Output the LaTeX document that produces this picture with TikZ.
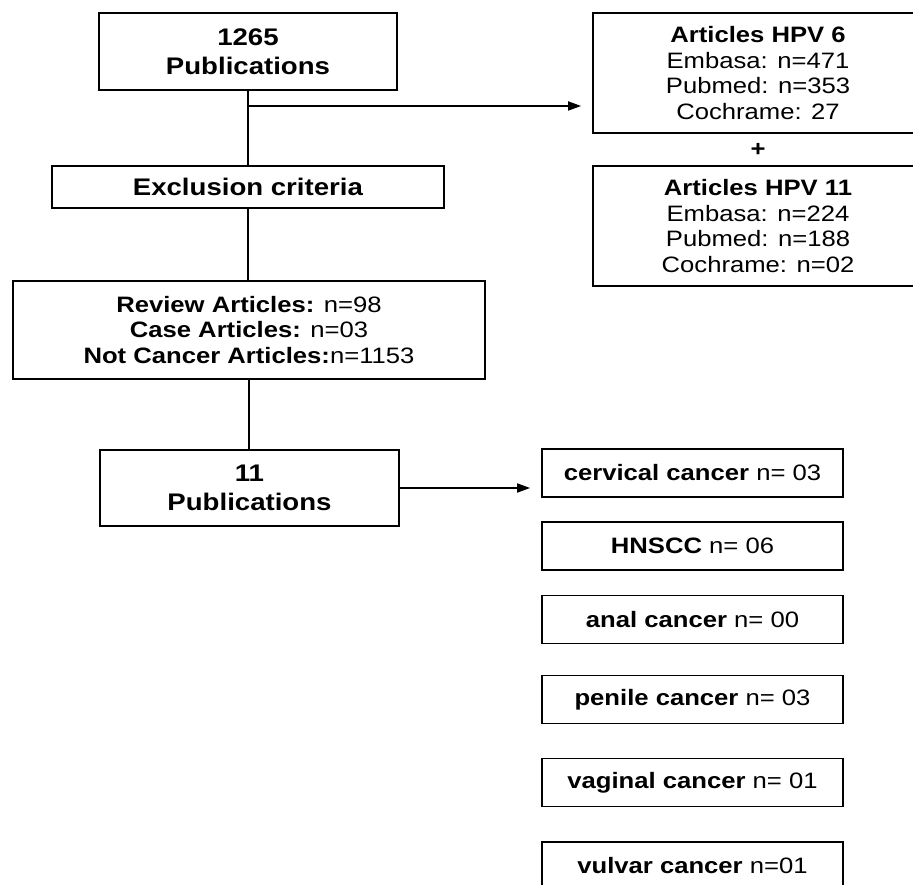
\documentclass[tikz,border=0pt]{standalone}
\usepackage{fontspec}
\setmainfont{Liberation Sans}[FakeStretch=1.15]
\usepackage{tikz}
\usetikzlibrary{arrows.meta}
\usetikzlibrary{calc}
\tikzset{
    box/.style={draw, line width=1.7pt, inner sep=0pt, align=center, font=\fontsize{22.3}{25.7}\selectfont},
    bigtext/.style={font=\fontsize{24}{28.5}\selectfont},
    link/.style={line width=1.7pt},
    arr/.style={line width=1.7pt, -{Triangle[length=13pt,width=9pt]}, shorten >=11pt}
}
\begin{document}
\begin{tikzpicture}[x=1pt, y=-1pt]
\useasboundingbox (0,0) rectangle (913,885);
\clip (0,0) rectangle (913,885);
\node[box, bigtext, minimum width=298, minimum height=77] (pub1) at (248,51.5) {\textbf{1265}\\\textbf{Publications}};
\node[box, bigtext, minimum width=392, minimum height=42] (excl) at (248,187) {\textbf{Exclusion criteria}};
\node[box, minimum width=472, minimum height=98] (review) at (249,330) {\textbf{Review Articles:} n=98\\\textbf{Case Articles:} n=03\\\textbf{Not Cancer Articles:}n=1153};
\node[box, bigtext, minimum width=299, minimum height=76] (pub2) at (249.5,488) {\textbf{11}\\\textbf{Publications}};
\node[box, minimum width=330, minimum height=120] (hpv6) at (758,73) {\textbf{Articles HPV 6}\\Embasa: n=471\\Pubmed: n=353\\Cochrame: 27};
\node[box, draw=none] (plus) at (758,150) {\textbf{+}};
\node[box, minimum width=330, minimum height=120] (hpv11) at (758,226) {\textbf{Articles HPV 11}\\Embasa: n=224\\Pubmed: n=188\\Cochrame: n=02};
\foreach \nm/\yy/\lbl in {cerv/473/{\textbf{cervical cancer} n= 03}, hnscc/546/{\textbf{HNSCC} n= 06}, anal/619.5/{\textbf{anal cancer} n= 00}, penile/699.5/{\textbf{penile cancer} n= 03}, vagin/782.5/{\textbf{vaginal cancer} n= 01}, vulvar/866/{\textbf{vulvar cancer} n=01}}{
    \node[box, minimum width=301, minimum height=48] (\nm) at (692.5,\yy) {\lbl};
}
\draw[link] (pub1.south) -- (pub1.south |- excl.north);
\draw[link] (excl.south) -- (excl.south |- review.north);
\draw[link] (review.south) -- (review.south |- pub2.north);
\coordinate (split) at (248,106);
\draw[arr] (split) -- (split -| hpv6.west);
\draw[arr] (pub2.east) -- (pub2.east -| cerv.west);
\end{tikzpicture}
\end{document}
